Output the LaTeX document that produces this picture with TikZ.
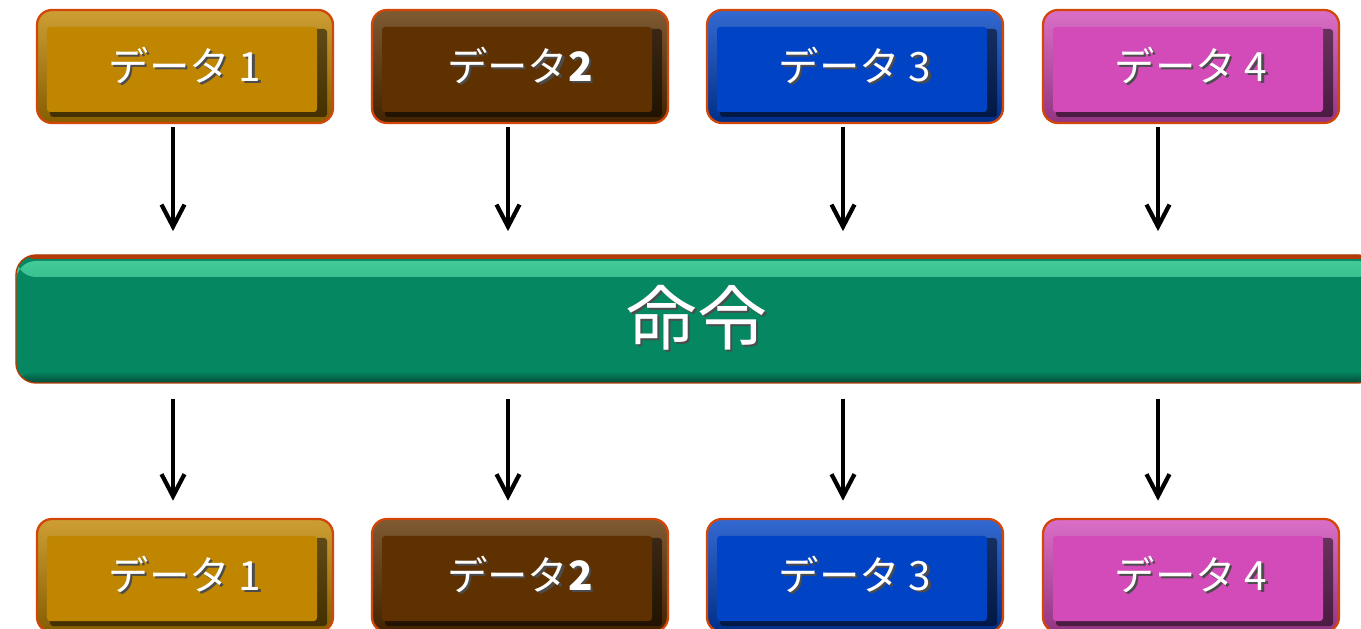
\documentclass[tikz,border=0pt]{standalone}
\usepackage{fontspec}
\newfontfamily\jp{Noto Sans CJK JP}
\usetikzlibrary{arrows.meta}
\usetikzlibrary{calc}
\definecolor{gold}{RGB}{192,134,0}
\definecolor{choco}{RGB}{95,49,0}
\definecolor{royal}{RGB}{0,67,196}
\definecolor{orchid}{RGB}{210,75,185}
\definecolor{teal}{RGB}{5,136,98}
\definecolor{hilite}{RGB}{70,205,155}
\definecolor{brd}{RGB}{210,70,10}
\newcommand\shtxt[1]{\makebox[0pt][l]{\hspace{1.2pt}\raisebox{-1.2pt}{\textcolor{black!70}{#1}}}#1}

\tikzset{
	databox/.style={rounded corners=3mm, minimum width=59.2mm, minimum height=22.6mm,
		draw=brd, line width=1.3pt, top color=#1!80!white, bottom color=#1!70!black,
		text=white, font=\jp\fontsize{23}{26}\selectfont,
		path picture={
			\fill[black, opacity=.5, rounded corners=0.6mm] ($(path picture bounding box.north west)+(13,19)$) rectangle ($(path picture bounding box.south east)+(-6,-6)$);
			\fill[#1, rounded corners=0.6mm] ($(path picture bounding box.north west)+(10,17)$) rectangle ($(path picture bounding box.south east)+(-16,-11)$);
		}},
	cmdbar/.style={rounded corners=4mm, minimum width=272.4mm, minimum height=25.6mm,
		draw=brd!85!black, line width=0.8pt, fill=teal,
		text=white, font=\jp\fontsize{40}{44}\selectfont,
		path picture={
			\shade[top color=hilite, bottom color=teal] ($(path picture bounding box.north west)+(0,6)$) rectangle ($(path picture bounding box.north east)+(0,22)$);
			\shade[top color=teal, bottom color=teal!55!black] ($(path picture bounding box.south west)+(0,-12)$) rectangle (path picture bounding box.south east);
			\fill[brd!85!black] (path picture bounding box.north west) rectangle ($(path picture bounding box.north east)+(0,4)$);
		}},
	arr/.style={-{Straight Barb[length=4.4mm, width=4.6mm]}, line width=2.4pt}
}

\begin{document}
\begin{tikzpicture}[x=0.2mm, y=-0.2mm]
	\clip (0,0) rectangle (1361,629);
	% input row
	\node[databox=gold] (d1) at (185,66.5) {\shtxt{データ 1}};
	\node[databox=choco] (d2) at (520,66.5) {\shtxt{データ\textbf{2}}};
	\node[databox=royal] (d3) at (855,66.5) {\shtxt{データ 3}};
	\node[databox=orchid] (d4) at (1191,66.5) {\shtxt{データ 4}};
	% instruction
	\node[cmdbar] (cmd) at (697,319) {\shtxt{命令}};
	% output row
	\node[databox=gold] (e1) at (185,575.5) {\shtxt{データ 1}};
	\node[databox=choco] (e2) at (520,575.5) {\shtxt{データ\textbf{2}}};
	\node[databox=royal] (e3) at (855,575.5) {\shtxt{データ 3}};
	\node[databox=orchid] (e4) at (1191,575.5) {\shtxt{データ 4}};

	\draw[arr] ($(d1.south)+(-12,3)$) -- ++(0,104);
	\draw[arr] ($(d2.south)+(-12,3)$) -- ++(0,104);
	\draw[arr] ($(d3.south)+(-12,3)$) -- ++(0,104);
	\draw[arr] ($(d4.south)+(-33,3)$) -- ++(0,104);

	\draw[arr] ($(e1.north |- cmd.south)+(-12,15)$) -- ++(0,102);
	\draw[arr] ($(e2.north |- cmd.south)+(-12,15)$) -- ++(0,102);
	\draw[arr] ($(e3.north |- cmd.south)+(-12,15)$) -- ++(0,102);
	\draw[arr] ($(e4.north |- cmd.south)+(-33,15)$) -- ++(0,102);
\end{tikzpicture}
\end{document}
